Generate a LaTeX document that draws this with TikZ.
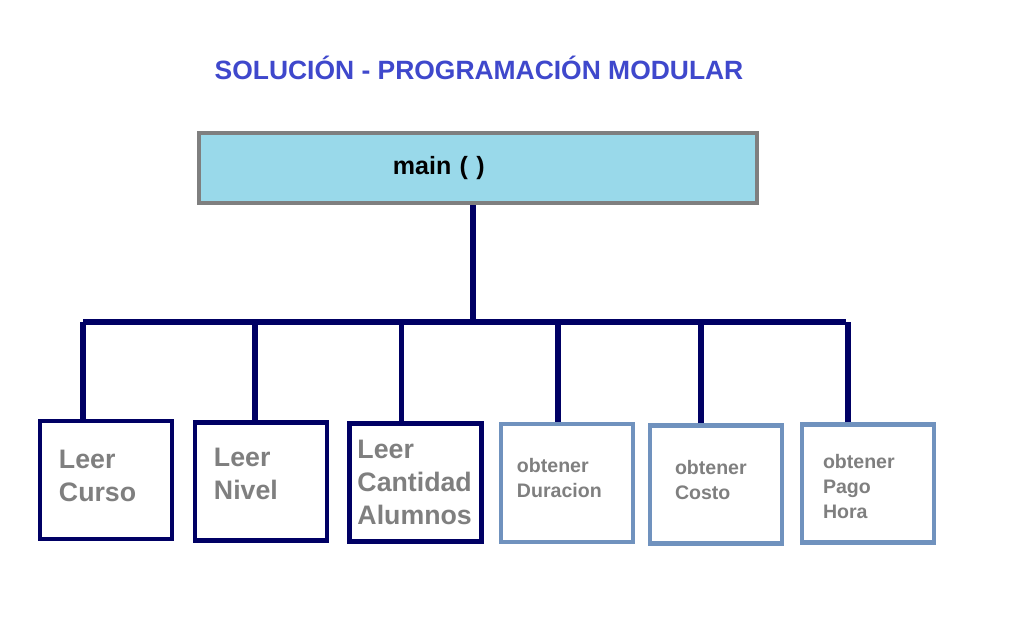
\documentclass[tikz,border=0pt]{standalone}
\usepackage{fontspec}
\setmainfont{Liberation Sans}
\usepackage{xcolor}
\usepackage{tikz}
\usetikzlibrary{positioning}

\definecolor{titleblue}{RGB}{63,72,204}
\definecolor{navyline}{RGB}{0,0,100}
\definecolor{mainfill}{RGB}{153,217,234}
\definecolor{mainedge}{RGB}{127,127,127}
\definecolor{grayblue}{RGB}{112,146,190}
\definecolor{modtext}{RGB}{127,127,127}

\begin{document}
\begin{tikzpicture}[
    x=0.025cm, y=-0.025cm,
    title/.style={font=\fontsize{18.8}{22}\selectfont\bfseries, text=titleblue},
    mainbox/.style={draw=mainedge, line width=3pt, fill=mainfill,
                    minimum width=13.95cm, minimum height=1.75cm,
                    text width=4.25cm, align=left,
                    font=\fontsize{17.8}{20}\selectfont\bfseries},
    leer/.style={draw=navyline, line width=2.9pt, minimum width=3.3cm,
                 minimum height=2.95cm, align=left, text=modtext,
                 font=\fontsize{19}{23.5}\selectfont\bfseries},
    obtener/.style={draw=grayblue, line width=2.9pt, minimum width=3.3cm,
                    minimum height=2.95cm, align=left, text=modtext,
                    font=\fontsize{13.9}{17.6}\selectfont\bfseries},
    link/.style={draw=navyline, line width=3.6pt},
]
\fill[white] (0,0) rectangle (1016,635);

% Title
\node[title] (ttl) at (479,68) {SOLUCIÓN - PROGRAMACIÓN MODULAR};

% Main module
\node[mainbox] (main) at (478,168) {main ( )};

% Modules
\node[leer, text width=2.35cm, text depth=1.05cm] (curso) at (106,480) {Leer\\Curso};
\node[leer, text width=2.35cm, text depth=1.2cm] (nivel) at (261,481.5) {Leer\\Nivel};
\node[leer, text width=2.9cm] (cant) at (415.5,482.5) {Leer\\Cantidad\\Alumnos};
\node[obtener, text width=2.5cm, text depth=0.87cm] (dur) at (567,483) {obtener\\Duracion};
\node[obtener, text width=2.05cm, text depth=0.84cm] (costo) at (716,484.5) {obtener\\Costo};
\node[obtener, text width=2.25cm, text depth=1.09cm] (pago) at (868,483.5) {obtener\\Pago\\Hora};

% Connectors
\coordinate (busL) at (83,322);
\coordinate (busR) at (846,322);
\draw[link] ([xshift=-0.125cm]main.south) -- ([xshift=-0.125cm]main.south |- busL);
\draw[link] (busL) -- (busR);
\foreach \m/\dx in {curso/-0.575, nivel/-0.15, cant/-0.34,
                    dur/-0.225, costo/-0.375, pago/-0.5}
    \draw[link] ([xshift=\dx cm]\m.north) -- ([xshift=\dx cm]\m.north |- busL);
\end{tikzpicture}
\end{document}
